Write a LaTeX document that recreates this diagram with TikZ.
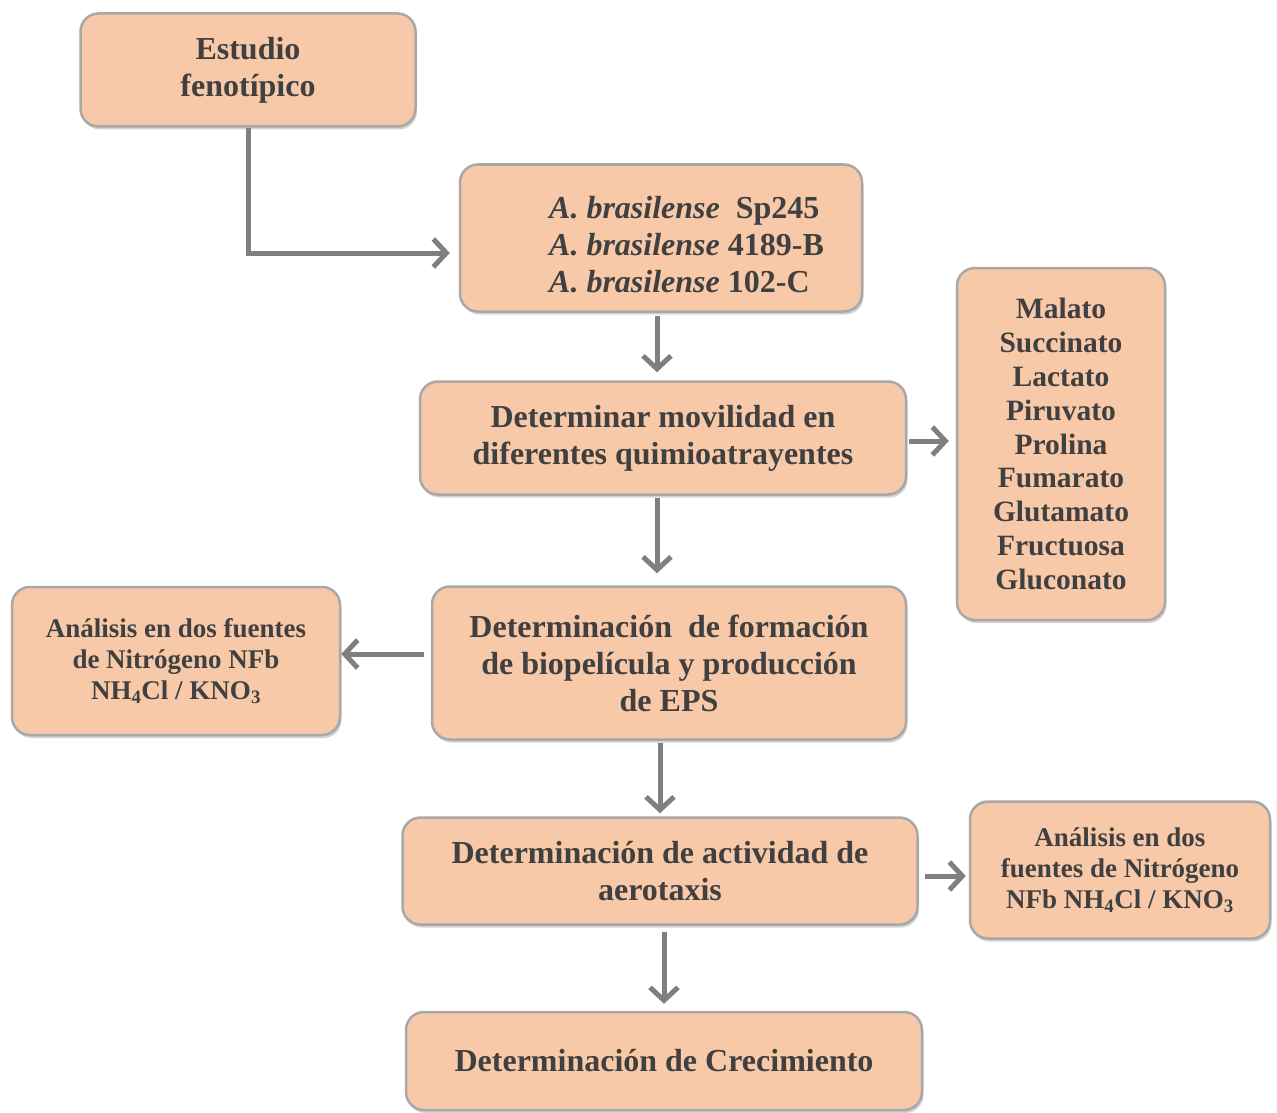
\documentclass[tikz,border=0pt]{standalone}
\usepackage{fontspec}
\setmainfont{Liberation Serif}
\usepackage{xcolor}
\usepackage{tikz}
\usetikzlibrary{arrows.meta,shadows}
\definecolor{saumon}{HTML}{F7C9A9}
\definecolor{grisbord}{HTML}{A8A8A8}
\definecolor{gristexte}{HTML}{404040}
\definecolor{grisfleche}{HTML}{7F7F7F}

\begin{document}
\begin{tikzpicture}[x=1pt,y=-1pt,
  boite/.style={draw=grisbord,line width=2.5pt,fill=saumon,rounded corners=18pt,
    drop shadow={shadow xshift=1.5pt,shadow yshift=-3pt,opacity=.35},
    text=gristexte,font=\bfseries\fontsize{32}{37}\selectfont,align=center,inner sep=0pt},
  petit/.style={font=\bfseries\fontsize{27}{31}\selectfont},
  fleche/.style={draw=grisfleche,line width=5pt,-{Straight Barb[length=13pt,width=28pt]}}]
\useasboundingbox (0,0) rectangle (1277,1113);
\node[boite,minimum width=335,minimum height=113] (etude) at (248,70) {Estudio\\ fenotípico};
\node[boite,minimum width=402,minimum height=147] (souches) at (661,238) {};
\node[text=gristexte,font=\bfseries\fontsize{32}{37}\selectfont,align=left,anchor=west,inner sep=0pt] (souchestxt) at (549,245)
  {\textit{A. brasilense}\ \ Sp245\\ \textit{A. brasilense} 4189-B\\ \textit{A. brasilense} 102-C};
\node[boite,minimum width=486,minimum height=113] (mobilite) at (663,438) {Determinar movilidad en\\ diferentes quimioatrayentes};
\node[boite,minimum width=208,minimum height=352,font=\bfseries\fontsize{29.5}{33.8}\selectfont] (sources) at (1061,444)
  {Malato\\ Succinato\\ Lactato\\ Piruvato\\ Prolina\\ Fumarato\\ Glutamato\\ Fructuosa\\ Gluconato};
\node[boite,minimum width=474,minimum height=153] (biofilm) at (669,663) {Determinación\ \ de formación\\ de biopelícula y producción\\ de EPS};
\node[boite,petit,minimum width=328,minimum height=148] (azoteG) at (176,661) {Análisis en dos fuentes\\ de Nitrógeno NFb\\ NH\textsubscript{4}Cl / KNO\textsubscript{3}};
\node[boite,minimum width=515,minimum height=107] (aerotaxie) at (660,871) {Determinación de actividad de\\ aerotaxis};
\node[boite,petit,minimum width=300,minimum height=137] (azoteD) at (1120,870) {Análisis en dos\\ fuentes de Nitrógeno\\ NFb NH\textsubscript{4}Cl / KNO\textsubscript{3}};
\node[boite,minimum width=516,minimum height=98] (croissance) at (664,1061) {Determinación de Crecimiento};
\draw[fleche,shorten >=9pt] (etude.south) |- ([yshift=-15pt]souches.west);
\draw[fleche,shorten <=3pt,shorten >=8pt] ([xshift=-4pt]souches.south) -- ([xshift=-4pt]souches.south |- mobilite.north);
\draw[fleche,shorten <=2pt,shorten >=7pt] ([yshift=-3pt]mobilite.east) -- ([yshift=-3pt]mobilite.east -| sources.west);
\draw[fleche,shorten <=2pt,shorten >=12pt] ([xshift=-6pt]mobilite.south) -- ([xshift=-6pt]mobilite.south |- biofilm.north);
\draw[fleche,shorten <=7pt] ([yshift=9pt]biofilm.west) -- ([yshift=9pt]biofilm.west -| azoteG.east);
\draw[fleche,shorten <=2pt,shorten >=3pt] ([xshift=-9pt]biofilm.south) -- ([xshift=-9pt]biofilm.south |- aerotaxie.north);
\draw[fleche,shorten <=6pt,shorten >=3pt] ([yshift=-5pt]aerotaxie.east) -- ([yshift=-5pt]aerotaxie.east -| azoteD.west);
\draw[fleche,shorten <=6pt,shorten >=7pt] ([xshift=4pt]aerotaxie.south) -- ([xshift=4pt]aerotaxie.south |- croissance.north);
\end{tikzpicture}
\end{document}
